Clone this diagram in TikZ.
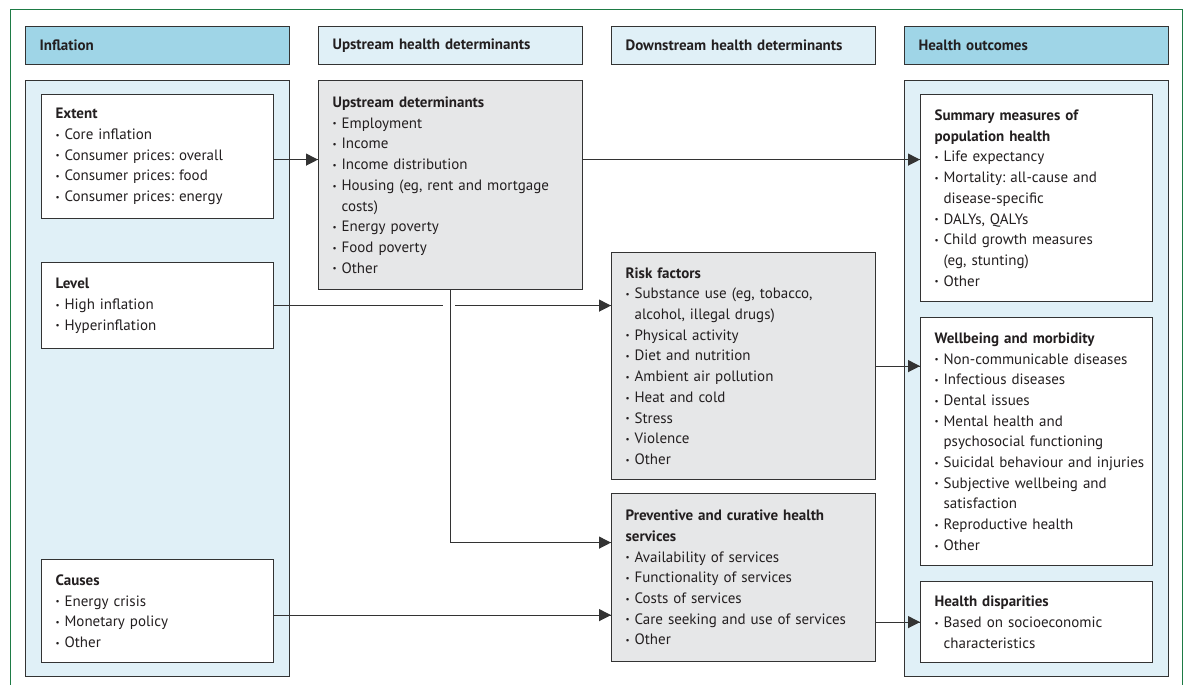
\documentclass[tikz,border=0pt]{standalone}
\usepackage{fontspec}
\setmainfont{PT Sans}
\usepackage{tikz}
\usetikzlibrary{arrows.meta}
\usetikzlibrary{decorations.markings}
\usetikzlibrary{positioning}
\frenchspacing
\definecolor{hdark}{HTML}{9FD5E7}
\definecolor{hlight}{HTML}{E0F0F7}
\definecolor{bgray}{HTML}{E6E7E8}
\definecolor{lgreen}{HTML}{1E7B45}
\definecolor{ink}{HTML}{231F20}
\definecolor{edge}{HTML}{333333}
\tikzset{arr/.style = {decoration={markings,
                                  mark=at position 1 with {\arrow{Triangle[length=12pt,width=12pt]}}},
                      postaction={decorate}}}
\tikzset{head/.style = {draw=edge, line width=1.2pt, anchor=north west, minimum width=263.5,
                        minimum height=38, text width=235.5, inner xsep=14, align=left,
                        font=\fontsize{15}{20.7}\selectfont\bfseries}}
\tikzset{col/.style = {draw=edge, line width=1.2pt, fill=hlight, anchor=north west,
                       minimum width=263.5, minimum height=596}}
\tikzset{box/.style = {draw=edge, line width=1.2pt, anchor=north west, inner xsep=14,
                       inner ysep=0, align=left}}
\tikzset{wbox/.style = {box, fill=white, minimum width=232, text width=204}}
\tikzset{gbox/.style = {box, fill=bgray, minimum width=263.5, text width=235.5}}
\newcommand{\ttl}[1]{\mbox{\bfseries #1}}
\newcommand{\itm}[1]{\mbox{\makebox[9pt][l]{\raisebox{1.3pt}{\scalebox{0.6}{\textbullet}}}#1}}
\newcommand{\cnt}[1]{\mbox{\hspace*{9pt}#1}}

\begin{document}
\begin{tikzpicture}[x=1pt, y=-1pt, font=\fontsize{15}{20.7}\selectfont, text=ink]
    \useasboundingbox (0,0) rectangle (1184,685);

    % open frame round the figure
    \draw [lgreen, line width=1pt] (10,685) -- (10,10) -- (1182,10) -- (1182,685);

    % column headings
    \node [head, fill=hdark] (hinf) at (25,26) {Inflation};
    \node [head, fill=hlight] (hup) at (318,26) {Upstream health determinants};
    \node [head, fill=hlight] (hdown) at (611,26) {Downstream health determinants};
    \node [head, fill=hdark] (hout) at (904,26) {Health outcomes};

    % shaded columns
    \node [col] (cinf) at (25,80) {};
    \node [col] (cout) at (904,80) {};

    % inflation
    \node [wbox, minimum height=124] (ext) at (41,94)
        {\ttl{Extent}\\ \itm{Core inflation}\\ \itm{Consumer prices: overall}\\
         \itm{Consumer prices: food}\\ \itm{Consumer prices: energy}};
    \node [wbox, minimum height=86] (lvl) at (41,262)
        {\ttl{Level}\\ \itm{High inflation}\\ \itm{Hyperinflation}};
    \node [wbox, minimum height=103] (cause) at (41,559)
        {\ttl{Causes}\\ \itm{Energy crisis}\\ \itm{Monetary policy}\\ \itm{Other}};

    % determinants
    \node [gbox, minimum height=209] (up) at (318,80)
        {\ttl{Upstream determinants}\\ \itm{Employment}\\ \itm{Income}\\
         \itm{Income distribution}\\ \itm{Housing (eg, rent and mortgage}\\ \cnt{costs)}\\
         \itm{Energy poverty}\\ \itm{Food poverty}\\ \itm{Other}};
    \node [gbox, minimum height=227] (risk) at (611,252)
        {\ttl{Risk factors}\\ \itm{Substance use (eg, tobacco,}\\ \cnt{alcohol, illegal drugs)}\\
         \itm{Physical activity}\\ \itm{Diet and nutrition}\\ \itm{Ambient air pollution}\\
         \itm{Heat and cold}\\ \itm{Stress}\\ \itm{Violence}\\ \itm{Other}};
    \node [gbox, minimum height=168] (prev) at (611,493)
        {\ttl{Preventive and curative health}\\ \ttl{services}\\ \itm{Availability of services}\\
         \itm{Functionality of services}\\ \itm{Costs of services}\\
         \itm{Care seeking and use of services}\\ \itm{Other}};

    % outcomes
    \node [wbox, minimum height=207] (summ) at (920,94)
        {\ttl{Summary measures of}\\ \ttl{population health}\\ \itm{Life expectancy}\\
         \itm{Mortality: all-cause and}\\ \cnt{disease-specific}\\ \itm{DALYs, QALYs}\\
         \itm{Child growth measures}\\ \cnt{(eg, stunting)}\\ \itm{Other}};
    \node [wbox, minimum height=248] (well) at (920,317)
        {\ttl{Wellbeing and morbidity}\\ \itm{Non-communicable diseases}\\ \itm{Infectious diseases}\\
         \itm{Dental issues}\\ \itm{Mental health and}\\ \cnt{psychosocial functioning}\\
         \itm{Suicidal behaviour and injuries}\\ \itm{Subjective wellbeing and}\\ \cnt{satisfaction}\\
         \itm{Reproductive health}\\ \itm{Other}};
    \node [wbox, minimum height=81] (disp) at (920,581)
        {\ttl{Health disparities}\\ \itm{Based on socioeconomic}\\ \cnt{characteristics}};

    % connectors
    \begin{scope}[draw=edge, line width=1.2pt]
        \coordinate (extout) at ([yshift=-3]ext.east);
        \coordinate (gapl) at ([xshift=-7]up.south);
        \coordinate (gapr) at ([xshift=5]up.south);
        \coordinate (previn) at ([yshift=35]prev.west);
        \coordinate (causeout) at ([yshift=-4]cause.east);

        \draw [arr] (extout) -- (extout -| up.west);
        \draw [arr] (extout -| up.east) -- (extout -| summ.west);
        \draw (lvl.east) -- (lvl.east -| gapl);
        \draw [arr] (lvl.east -| gapr) -- (lvl.east -| risk.west);
        \draw [arr] (up.south) |- (previn);
        \draw [arr] (risk.east) -- (risk.east -| well.west);
        \draw [arr] (causeout) -- (causeout -| prev.west);
        \draw [arr] (disp.west -| prev.east) -- (disp.west);
    \end{scope}
\end{tikzpicture}
\end{document}
